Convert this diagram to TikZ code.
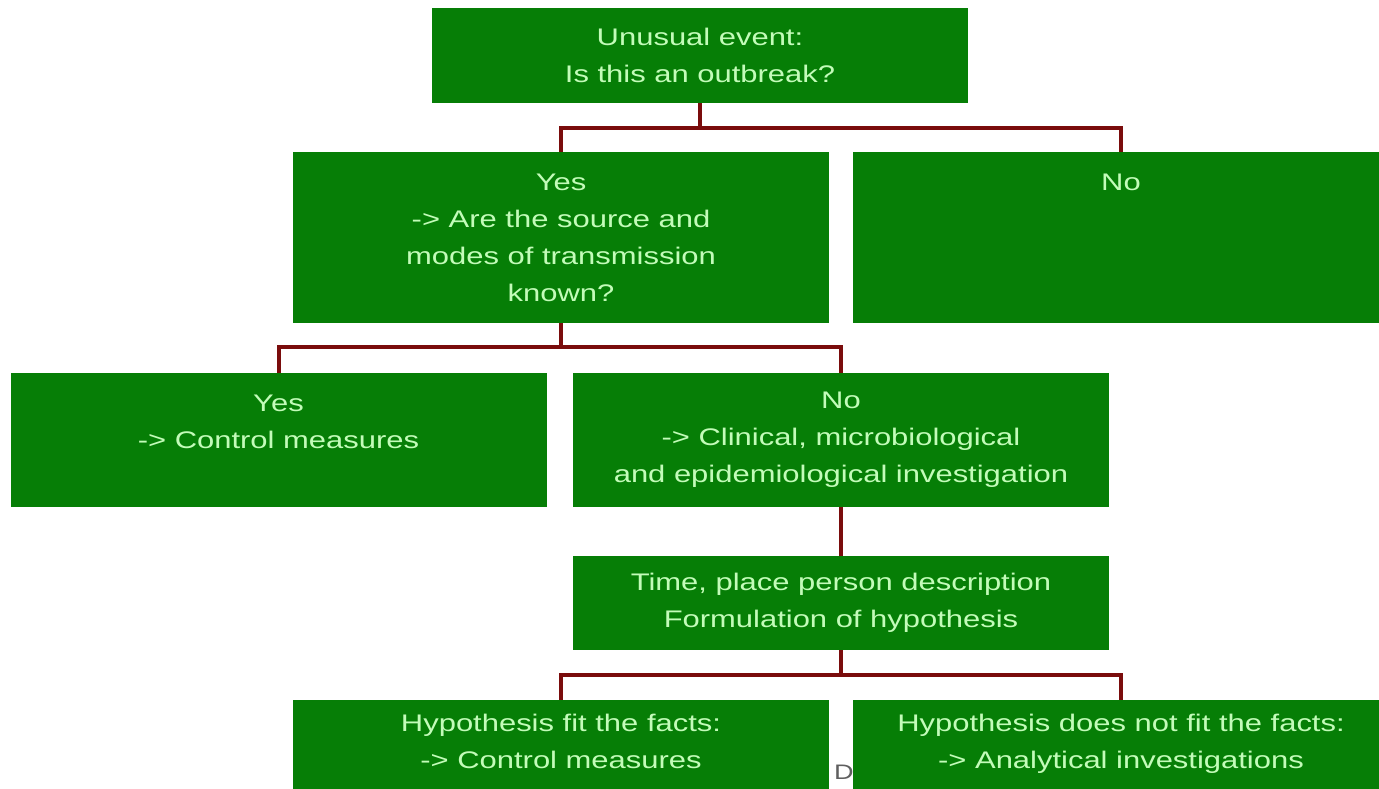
\documentclass[tikz,border=0pt]{standalone}
\usepackage{fontspec}
\setmainfont{Liberation Sans}[FakeStretch=1.29]
\usetikzlibrary{positioning}
\definecolor{boxgreen}{RGB}{6,126,6}
\definecolor{boxtext}{RGB}{195,252,185}
\definecolor{linkred}{RGB}{122,12,12}
\definecolor{markgray}{RGB}{95,95,95}

\begin{document}
\begin{tikzpicture}[x=1pt,y=-1pt,
        box/.style={rectangle, fill=boxgreen, text=boxtext, align=center,
            minimum width=536pt, inner sep=0pt,
            font=\fontsize{24}{37}\selectfont},
        link/.style={draw=linkred, line width=4pt}]
    \useasboundingbox (0,0) rectangle (1379,788);
    \clip (0,0) rectangle (1379,788);
    % half hidden mark behind the last row
    \node[anchor=west, text=markgray, inner sep=0pt, font=\fontsize{21}{24}\selectfont] (dmark) at (834,772) {D};
    % boxes
    \draw (700,55.5) node[box, minimum height=95pt] (event) {Unusual event:\\Is this an outbreak?};
    \draw (561,237.5) node[box, minimum height=171pt] (yes) {Yes\\-> Are the source and\\modes of transmission\\known?};
    \draw (1121,237.5) node[box, minimum height=171pt] (no) {No\\ \mbox{}\\ \mbox{}\\ \mbox{}};
    \draw (278.5,440) node[box, minimum height=134pt] (known) {Yes\\-> Control measures\\ \mbox{}};
    \draw (841,440) node[box, minimum height=134pt] (unknown) {No\\-> Clinical, microbiological\\and epidemiological investigation};
    \draw (841,603) node[box, minimum height=94pt] (tpp) {Time, place person description\\Formulation of hypothesis};
    \draw (561,760) node[box, minimum height=120pt] (fit) {Hypothesis fit the facts:\\-> Control measures\\ \mbox{}};
    \draw (1121,760) node[box, minimum height=120pt] (nofit) {Hypothesis does not fit the facts:\\-> Analytical investigations\\ \mbox{}};
    % connectors
    \draw[link] (event.south) -- ++(0,25) -| (yes.north);
    \draw[link] (event.south) -- ++(0,25) -| (no.north);
    \draw[link] (yes.south) -- ++(0,24) -| (known.north);
    \draw[link] (yes.south) -- ++(0,24) -| (unknown.north);
    \draw[link] (unknown.south) -- (tpp.north);
    \draw[link] (tpp.south) -- ++(0,25) -| (fit.north);
    \draw[link] (tpp.south) -- ++(0,25) -| (nofit.north);
\end{tikzpicture}
\end{document}
